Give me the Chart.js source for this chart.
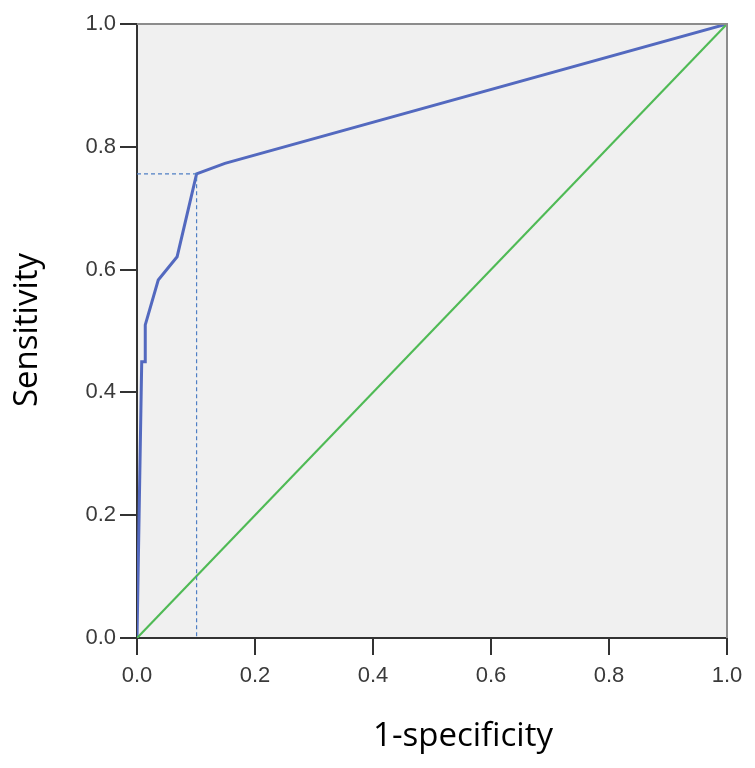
<!DOCTYPE html>
<html>
<head>
<meta charset="utf-8">
<script src="https://cdn.jsdelivr.net/npm/chart.js@4.4.1/dist/chart.umd.min.js"></script>
<style>
  html, body { margin: 0; padding: 0; background: #fff; }
  #wrap { width: 755px; height: 768px; }
</style>
</head>
<body>
<div id="wrap"><canvas id="chart"></canvas></div>
<script>
// ROC curve
const rocFpr = [0, 0.008, 0.014, 0.014, 0.036, 0.068, 0.101, 0.149, 1.0];
const rocTpr = [0, 0.45, 0.45, 0.51, 0.583, 0.621, 0.756, 0.773, 1.0];

// reference diagonal
const diagX = [0, 1];
const diagY = [0, 1];

// cut-off marker (dashed guide)
const cutX = [0, 0.101, 0.101];
const cutY = [0.756, 0.756, 0];

const xTitle = "1-specificity";
const yTitle = "Sensitivity";

function toPoints(xs, ys) {
  return xs.map((x, i) => ({ x: x, y: ys[i] }));
}

// grey plot background + light frame on top/right
const plotFrame = {
  id: "plotFrame",
  beforeDraw(chart) {
    const { ctx, chartArea: a } = chart;
    ctx.save();
    ctx.fillStyle = "#f0f0f0";
    ctx.fillRect(a.left, a.top, a.right - a.left, a.bottom - a.top);
    ctx.restore();
  },
  afterDraw(chart) {
    const { ctx, chartArea: a } = chart;
    ctx.save();
    ctx.strokeStyle = "#8c8c8c";
    ctx.lineWidth = 2;
    ctx.beginPath();
    ctx.moveTo(a.left, a.top);
    ctx.lineTo(a.right, a.top);
    ctx.lineTo(a.right, a.bottom);
    ctx.stroke();
    ctx.restore();
  }
};

// axis titles, placed like the original (x title sits right of centre)
const axisTitles = {
  id: "axisTitles",
  afterDraw(chart) {
    const ctx = chart.ctx;
    ctx.save();
    ctx.fillStyle = "#000";
    ctx.font = "33px 'Open Sans'";
    ctx.textAlign = "center";
    ctx.textBaseline = "alphabetic";
    ctx.fillText(xTitle, 463, 746);
    ctx.translate(37, 330);
    ctx.rotate(-Math.PI / 2);
    ctx.fillText(yTitle, 0, 0);
    ctx.restore();
  }
};

const tickFont = { family: "'Liberation Sans', Arial", size: 22 };

const ctx = document.getElementById("chart").getContext("2d");
const chart = new Chart(ctx, {
  type: "scatter",
  data: {
    datasets: [
      {
        label: "cutoff",
        data: toPoints(cutX, cutY),
        showLine: true,
        borderColor: "#4f7fc4",
        borderWidth: 1.2,
        borderDash: [4, 3],
        pointRadius: 0,
        fill: false
      },
      {
        label: "Reference",
        data: toPoints(diagX, diagY),
        showLine: true,
        borderColor: "#4fba55",
        borderWidth: 2.2,
        pointRadius: 0,
        fill: false
      },
      {
        label: "ROC",
        data: toPoints(rocFpr, rocTpr),
        showLine: true,
        borderColor: "#5369bf",
        borderWidth: 3,
        pointRadius: 0,
        tension: 0,
        fill: false
      }
    ]
  },
  options: {
    responsive: true,
    maintainAspectRatio: false,
    animation: false,
    layout: { padding: { top: 24, right: 28, left: 0, bottom: 0 } },
    plugins: {
      legend: { display: false },
      tooltip: { enabled: false }
    },
    scales: {
      x: {
        type: "linear",
        min: 0,
        max: 1,
        afterFit: s => { s.height = 130; },
        ticks: {
          stepSize: 0.2,
          color: "#3a3a3a",
          font: tickFont,
          padding: 8,
          maxRotation: 0,
          callback: v => v.toFixed(1)
        },
        grid: {
          drawOnChartArea: false,
          color: "#333",
          lineWidth: 2,
          tickLength: 17
        },
        border: { display: true, color: "#333", width: 2 }
      },
      y: {
        type: "linear",
        min: 0,
        max: 1,
        afterFit: s => { s.width = 137; },
        ticks: {
          stepSize: 0.2,
          color: "#3a3a3a",
          font: tickFont,
          padding: 4,
          callback: v => v.toFixed(1)
        },
        grid: {
          drawOnChartArea: false,
          color: "#333",
          lineWidth: 2,
          tickLength: 17
        },
        border: { display: true, color: "#333", width: 2 }
      }
    }
  },
  plugins: [plotFrame, axisTitles]
});
</script>
</body>
</html>
